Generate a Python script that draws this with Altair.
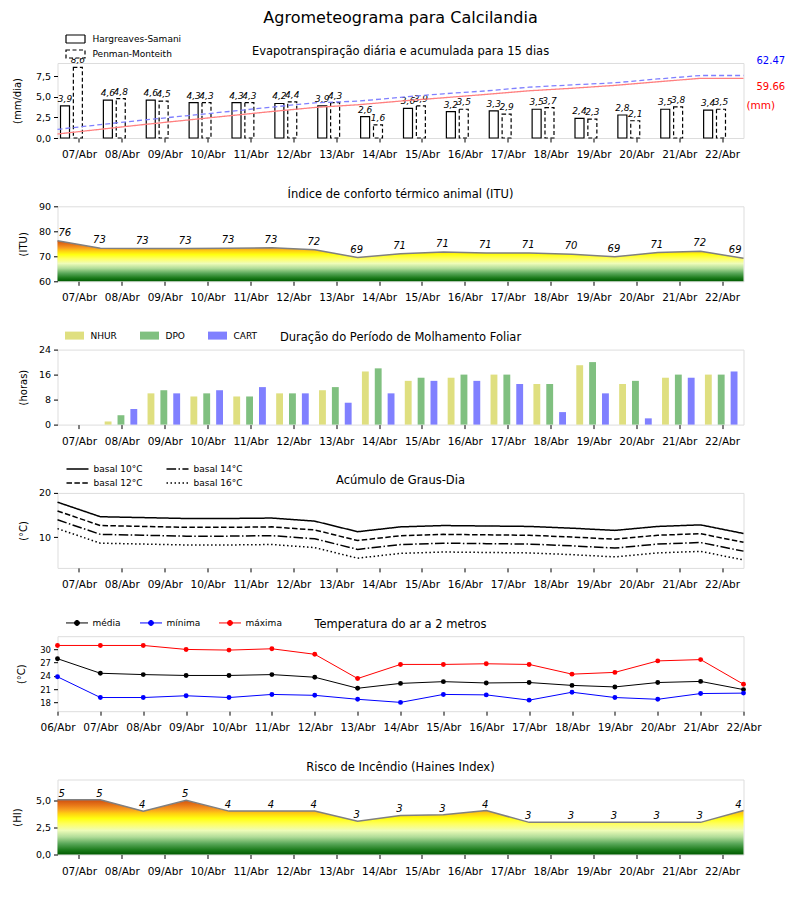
import json
import altair as alt
import pandas as pd

FONT = "DejaVu Sans"
W, H = 686, 75

# ---------------- data ----------------
dias = ["07/Abr", "08/Abr", "09/Abr", "10/Abr", "11/Abr", "12/Abr", "13/Abr", "14/Abr",
        "15/Abr", "16/Abr", "17/Abr", "18/Abr", "19/Abr", "20/Abr", "21/Abr", "22/Abr"]
dias_temp = ["06/Abr", "07/Abr", "08/Abr", "09/Abr", "10/Abr", "11/Abr", "12/Abr", "13/Abr",
             "14/Abr", "15/Abr", "16/Abr", "17/Abr", "18/Abr", "19/Abr", "20/Abr", "21/Abr", "22/Abr"]

metodos = ["Hargreaves-Samani", "Penman-Monteith"]
et_hs = [3.9, 4.6, 4.6, 4.3, 4.3, 4.2, 3.9, 2.6, 3.6, 3.2, 3.3, 3.5, 2.4, 2.8, 3.5, 3.4]
et_pm = [8.6, 4.8, 4.5, 4.3, 4.3, 4.4, 4.3, 1.6, 3.9, 3.5, 2.9, 3.7, 2.3, 2.1, 3.8, 3.5]
acum_hs = [4.0, 8.7, 13.4, 17.8, 22.2, 26.5, 30.5, 33.2, 36.9, 40.2, 43.6, 47.2, 49.7, 52.6, 56.2, 59.66, 59.66]
acum_pm = [8.6, 13.4, 17.9, 22.2, 26.5, 30.9, 35.2, 36.8, 40.7, 44.2, 47.1, 50.8, 53.1, 55.2, 59.0, 62.47, 62.47]
totais = ["62.47", "59.66"]

itu = [76.2, 73.2, 73.1, 73.1, 73.2, 73.4, 72.6, 69.5, 71.0, 71.7, 71.3, 71.3, 70.8, 69.8, 71.5, 72.0, 69.2]
itu_lbl = [76, 73, 73, 73, 73, 73, 72, 69, 71, 71, 71, 71, 70, 69, 71, 72, 69]

series_molh = ["NHUR", "DPO", "CART"]
nhur = [0, 1, 10, 9, 9, 10, 11, 17, 14, 15, 16, 13, 19, 13, 15, 16]
dpo = [0, 3, 11, 10, 9, 10, 12, 18, 15, 16, 16, 13, 20, 14, 16, 16]
cart = [0, 5, 10, 11, 12, 10, 7, 10, 14, 14, 13, 4, 10, 2, 15, 17]

basais = ["basal 10°C", "basal 12°C", "basal 14°C", "basal 16°C"]
gd10 = [17.9, 14.6, 14.4, 14.2, 14.2, 14.3, 13.6, 11.2, 12.3, 12.6, 12.5, 12.4, 12.0, 11.5, 12.4, 12.75, 10.8]
gd12 = [15.9, 12.6, 12.4, 12.2, 12.2, 12.3, 11.6, 9.2, 10.3, 10.6, 10.5, 10.4, 10.0, 9.5, 10.4, 10.75, 8.8]
gd14 = [13.9, 10.6, 10.4, 10.2, 10.2, 10.3, 9.6, 7.2, 8.3, 8.6, 8.5, 8.4, 8.0, 7.5, 8.4, 8.75, 6.8]
gd16 = [11.9, 8.6, 8.4, 8.2, 8.2, 8.3, 7.6, 5.2, 6.3, 6.6, 6.5, 6.4, 6.0, 5.5, 6.4, 6.75, 4.8]

temp_series = ["média", "mínima", "máxima"]
t_med = [27.9, 24.6, 24.3, 24.1, 24.1, 24.3, 23.7, 21.2, 22.3, 22.7, 22.4, 22.5, 21.85, 21.5, 22.5, 22.75, 20.9]
t_min = [23.8, 19.1, 19.1, 19.5, 19.1, 19.8, 19.6, 18.7, 18.0, 19.8, 19.7, 18.5, 20.3, 19.1, 18.7, 20.0, 20.1]
t_max = [30.9, 30.9, 30.9, 30.0, 29.85, 30.15, 28.9, 23.4, 26.6, 26.6, 26.75, 26.6, 24.4, 24.8, 27.4, 27.7, 22.1]

haines = [5.1, 5.1, 4.05, 5.05, 4.05, 4.05, 4.05, 3.1, 3.65, 3.7, 4.1, 3.0, 3.0, 3.0, 3.0, 3.0, 4.1]
haines_lbl = [5, 5, 4, 5, 4, 4, 4, 3, 3, 3, 4, 3, 3, 3, 3, 3, 4]

# ---------------- shared helpers ----------------
COMMA = "replace(format(datum.value, '.1f'), '.', ',')"


def xs():
    return alt.Scale(domain=[0, 16], nice=False, zero=False)


def x_axis(values, labels, mid):
    idx = "floor(datum.value)" if mid else "round(datum.value)"
    return alt.Axis(values=values, labelExpr=f"{json.dumps(labels)}[{idx}]",
                    title=None, grid=False, domain=False, tickColor="black", tickSize=4,
                    labelFontSize=10.5, labelColor="black", labelPadding=7.5, labelFont=FONT,
                    labelOverlap=False, labelBound=False, labelFlush=False)


AX_MID = x_axis([i + 0.5 for i in range(16)], dias, True)
AX_PT = x_axis(list(range(17)), dias_temp, False)


def y_axis(values, title, tx, expr=None, size=9.5):
    kw = dict(values=values, title=title, grid=False, domain=False, tickColor="black", tickSize=4,
              labelFontSize=size, labelColor="black", labelFont=FONT, labelPadding=3,
              titleFont=FONT, titleFontSize=10, titleFontWeight="normal", titleColor="black",
              titleX=tx)
    if expr:
        kw["labelExpr"] = expr
    return alt.Axis(**kw)


def title_layer(text, y=-11.5, size=11.5):
    return alt.Chart(pd.DataFrame({"t": [text]})).mark_text(
        font=FONT, fontSize=size, baseline="middle", align="center", color="black"
    ).encode(text="t:N", x=alt.value(W / 2), y=alt.value(y))


def legend(**kw):
    base = dict(orient="none", title=None, labelFont=FONT, labelFontSize=9, labelColor="black",
                padding=0, symbolSize=100)
    base.update(kw)
    return alt.Legend(**base)


RECT = "M-1.9,-0.8H1.9V0.8H-1.9Z"
STROKE = "M-2.2,0H2.2"

grad = alt.Gradient(
    gradient="linear", x1=0, x2=0, y1=1, y2=0,
    stops=[
        alt.GradientStop(offset=0.0, color="#005a00"),
        alt.GradientStop(offset=0.08, color="#1a7a1a"),
        alt.GradientStop(offset=0.2, color="#5aa85a"),
        alt.GradientStop(offset=0.32, color="#b0dc98"),
        alt.GradientStop(offset=0.44, color="#eefcb8"),
        alt.GradientStop(offset=0.56, color="#ffff60"),
        alt.GradientStop(offset=0.66, color="#ffff10"),
        alt.GradientStop(offset=0.75, color="#ffd010"),
        alt.GradientStop(offset=0.82, color="#f8a020"),
        alt.GradientStop(offset=0.9, color="#e87818"),
        alt.GradientStop(offset=1.0, color="#d05010"),
    ],
)

# ---------------- panel 1: evapotranspiration ----------------
rows = [{"i": i, "m": metodos[0], "v": v} for i, v in enumerate(et_hs)] + \
       [{"i": i, "m": metodos[1], "v": v} for i, v in enumerate(et_pm)]
df_et = pd.DataFrame(rows)
rows = [{"i": i, "serie": metodos[0], "a": v} for i, v in enumerate(acum_hs)] + \
       [{"i": i, "serie": metodos[1], "a": v} for i, v in enumerate(acum_pm)]
df_acc = pd.DataFrame(rows)

dash_et = alt.Scale(domain=metodos, range=[[1, 0], [4, 2.5]])
YAX1 = y_axis([0, 2.5, 5, 7.5], "(mm/dia)", -35.5, COMMA)
LEG1 = legend(legendX=8, legendY=-30, symbolType=RECT, symbolFillColor="white",
              symbolStrokeColor="black", symbolStrokeWidth=1.2, rowPadding=1,
              symbolOffset=4, labelOffset=11)

et_base = alt.Chart(df_et).transform_calculate(
    x0="datum.i + (datum.m == 'Hargreaves-Samani' ? 0.07 : 0.37)",
).transform_calculate(
    x1="datum.x0 + 0.21", xc="datum.x0 + 0.105",
    lbl="replace(format(datum.v, '.1f'), '.', ',')",
)
bars_et = et_base.mark_bar(filled=False, fill="white", strokeWidth=1.2).encode(
    x=alt.X("x0:Q", scale=xs(), axis=AX_MID),
    x2="x1:Q",
    y=alt.Y("v:Q", scale=alt.Scale(domain=[0, 9.13], nice=False), axis=YAX1),
    y2=alt.datum(0),
    color=alt.Color("m:N", scale=alt.Scale(domain=metodos, range=["black", "black"]), legend=LEG1),
    strokeDash=alt.StrokeDash("m:N", scale=dash_et, legend=LEG1),
)
lbl_et = et_base.mark_text(font=FONT, fontSize=9, fontStyle="italic", baseline="bottom",
                           dy=-2, color="black").encode(
    x=alt.X("xc:Q", scale=xs(), axis=AX_MID),
    y=alt.Y("v:Q", scale=alt.Scale(domain=[0, 9.13], nice=False), axis=None),
    text="lbl:N")
acc_lines = alt.Chart(df_acc).mark_line(strokeWidth=1.3).encode(
    x=alt.X("i:Q", scale=xs(), axis=AX_MID),
    y=alt.Y("a:Q", scale=alt.Scale(domain=[0, 74.96], nice=False), axis=None),
    color=alt.Color("serie:N", scale=alt.Scale(domain=metodos, range=["#ff8080", "#8080ff"]), legend=None),
    strokeDash=alt.StrokeDash("serie:N", scale=alt.Scale(domain=metodos, range=[[1, 0], [5, 3]]),
                              legend=None),
)
tot_df = pd.DataFrame({"t": totais})
tot_pm = alt.Chart(tot_df).transform_filter("datum.t == '62.47'").mark_text(
    font=FONT, fontSize=10, align="left", baseline="middle", color="blue").encode(
    text="t:N", x=alt.value(W + 13), y=alt.value(-2))
tot_hs = alt.Chart(tot_df).transform_filter("datum.t == '59.66'").mark_text(
    font=FONT, fontSize=10, align="left", baseline="middle", color="red").encode(
    text="t:N", x=alt.value(W + 13), y=alt.value(24))
mm_txt = alt.Chart(pd.DataFrame({"t": ["(mm)"]})).mark_text(
    font=FONT, fontSize=10.5, align="left", baseline="middle", color="red").encode(
    text="t:N", x=alt.value(W + 3), y=alt.value(43))

p1 = alt.layer(
    bars_et, lbl_et, acc_lines, tot_pm, tot_hs, mm_txt,
    title_layer("Evapotranspiração diária e acumulada para 15 dias"),
    title_layer("Agrometeograma para Calcilandia", y=-45.5, size=16),
).resolve_scale(y="independent", strokeDash="independent", color="independent").properties(width=W, height=H)


# ---------------- gradient area panels ----------------
def area_panel(vals, lbls, ydom, yticks, ytitle, tx, expr, title, dy):
    df = pd.DataFrame({"i": list(range(len(vals))), "v": vals, "lbl": [str(x) for x in lbls]})
    yax = y_axis(yticks, ytitle, tx, expr)

    def ysc():
        return alt.Scale(domain=ydom, nice=False, zero=False)

    base = alt.Chart(df)
    area = base.mark_area(color=grad).encode(
        x=alt.X("i:Q", scale=xs(), axis=AX_MID),
        y=alt.Y("v:Q", scale=ysc(), axis=yax),
        y2=alt.datum(ydom[0]),
    )
    line = base.mark_line(color="#808080", strokeWidth=1.5).encode(
        x=alt.X("i:Q", scale=xs(), axis=AX_MID), y=alt.Y("v:Q", scale=ysc(), axis=yax))
    tk = dict(font=FONT, fontSize=10, fontStyle="italic", baseline="bottom", dy=dy, color="black")
    enc = dict(x=alt.X("i:Q", scale=xs(), axis=AX_MID), y=alt.Y("v:Q", scale=ysc(), axis=yax),
               text="lbl:N")
    t0 = base.transform_filter("datum.i == 0").mark_text(align="left", dx=1, **tk).encode(**enc)
    t1 = base.transform_filter("datum.i > 0 && datum.i < 16").mark_text(align="center", dx=-1, **tk).encode(**enc)
    t2 = base.transform_filter("datum.i == 16").mark_text(align="right", dx=-2, **tk).encode(**enc)
    return alt.layer(area, line, t0, t1, t2, title_layer(title)).properties(width=W, height=H)


p2 = area_panel(itu, itu_lbl, [60, 90], [60, 70, 80, 90], "(ITU)", -29.5, None,
                "Índice de conforto térmico animal (ITU)", -3)
p6 = area_panel(haines, haines_lbl, [0, 7], [0, 2.5, 5], "(HI)", -35.5, COMMA,
                "Risco de Incêndio (Haines Index)", -1)

# ---------------- panel 3: leaf wetness ----------------
rows = []
for s, arr in zip(series_molh, [nhur, dpo, cart]):
    rows += [{"i": i, "s": s, "h": v} for i, v in enumerate(arr)]
df_m = pd.DataFrame(rows)
bars_m = alt.Chart(df_m).transform_calculate(
    x0="datum.i + 0.1 + 0.3 * indexof(['NHUR', 'DPO', 'CART'], datum.s)"
).transform_calculate(x1="datum.x0 + 0.16").mark_bar().encode(
    x=alt.X("x0:Q", scale=xs(), axis=AX_MID),
    x2="x1:Q",
    y=alt.Y("h:Q", scale=alt.Scale(domain=[0, 24], nice=False),
            axis=y_axis([0, 8, 16, 24], "(horas)", -29.5)),
    y2=alt.datum(0),
    color=alt.Color("s:N", scale=alt.Scale(domain=series_molh, range=["#dfdf80", "#80c080", "#8080ff"]),
                    legend=legend(legendX=8, legendY=-19, direction="horizontal", columns=3,
                                  symbolType=RECT, symbolStrokeWidth=0, columnPadding=22,
                                  symbolOffset=4, labelOffset=11)),
)
p3 = alt.layer(bars_m, title_layer("Duração do Período de Molhamento Foliar")).properties(width=W, height=H)

# ---------------- panel 4: growing degree days ----------------
rows = []
for s, arr in zip(basais, [gd10, gd12, gd14, gd16]):
    rows += [{"i": i, "b": s, "g": v} for i, v in enumerate(arr)]
df_g = pd.DataFrame(rows)
lines_g = alt.Chart(df_g).mark_line(color="black", strokeWidth=1.5).encode(
    x=alt.X("i:Q", scale=xs(), axis=AX_MID),
    y=alt.Y("g:Q", scale=alt.Scale(domain=[3, 20], nice=False, zero=False),
            axis=y_axis([10, 20], "(°C)", -29.5)),
    strokeDash=alt.StrokeDash("b:N", scale=alt.Scale(
        domain=basais, range=[[1, 0], [5.5, 2.4], [9.6, 2.4, 1.5, 2.4], [1.5, 2.5]]),
        legend=legend(legendX=8, legendY=-30, columns=2, symbolType=STROKE,
                      symbolStrokeColor="black", symbolStrokeWidth=1.5, rowPadding=3,
                      columnPadding=20, symbolOffset=6, labelOffset=10)),
)
p4 = alt.layer(lines_g, title_layer("Acúmulo de Graus-Dia")).properties(width=W, height=H)

# ---------------- panel 5: temperature ----------------
rows = []
for s, arr in zip(temp_series, [t_med, t_min, t_max]):
    rows += [{"i": i, "s": s, "t": v} for i, v in enumerate(arr)]
df_t = pd.DataFrame(rows)
YAX5 = y_axis([18, 21, 24, 27, 30], "(°C)", -31.5, size=8.5)
LEG5 = legend(legendX=8, legendY=-19, direction="horizontal", columns=3,
              symbolType="M-2.2,0H2.2M0.5,0A0.5,0.5,0,1,1,-0.5,0A0.5,0.5,0,1,1,0.5,0",
              symbolStrokeWidth=1, columnPadding=16, symbolOffset=6, labelOffset=10)


def tsc():
    return alt.Scale(domain=[16, 33], nice=False, zero=False)


def tcol():
    return alt.Scale(domain=temp_series, range=["#000000", "#0000ff", "#ff0000"])


lines_t = alt.Chart(df_t).mark_line(strokeWidth=1).encode(
    x=alt.X("i:Q", scale=xs(), axis=AX_PT),
    y=alt.Y("t:Q", scale=tsc(), axis=YAX5),
    color=alt.Color("s:N", scale=tcol(), legend=LEG5),
)
pts_t = alt.Chart(df_t).mark_circle(size=24, opacity=1).encode(
    x=alt.X("i:Q", scale=xs(), axis=AX_PT), y=alt.Y("t:Q", scale=tsc(), axis=YAX5),
    color=alt.Color("s:N", scale=tcol(), legend=LEG5))
p5 = alt.layer(lines_t, pts_t, title_layer("Temperatura do ar a 2 metros")).properties(width=W, height=H)

chart = alt.vconcat(p1, p2, p3, p4, p5, p6, spacing=68.3, bounds="flush").resolve_scale(
    x="independent", y="independent", color="independent", strokeDash="independent"
).resolve_legend(color="independent", strokeDash="independent").properties(
    padding={"left": 3.5, "top": 1, "right": 5, "bottom": 5}
).configure_view(stroke="black", strokeWidth=1).configure(font=FONT)

chart.save("out.html", embed_options={"renderer": "svg", "actions": False})
